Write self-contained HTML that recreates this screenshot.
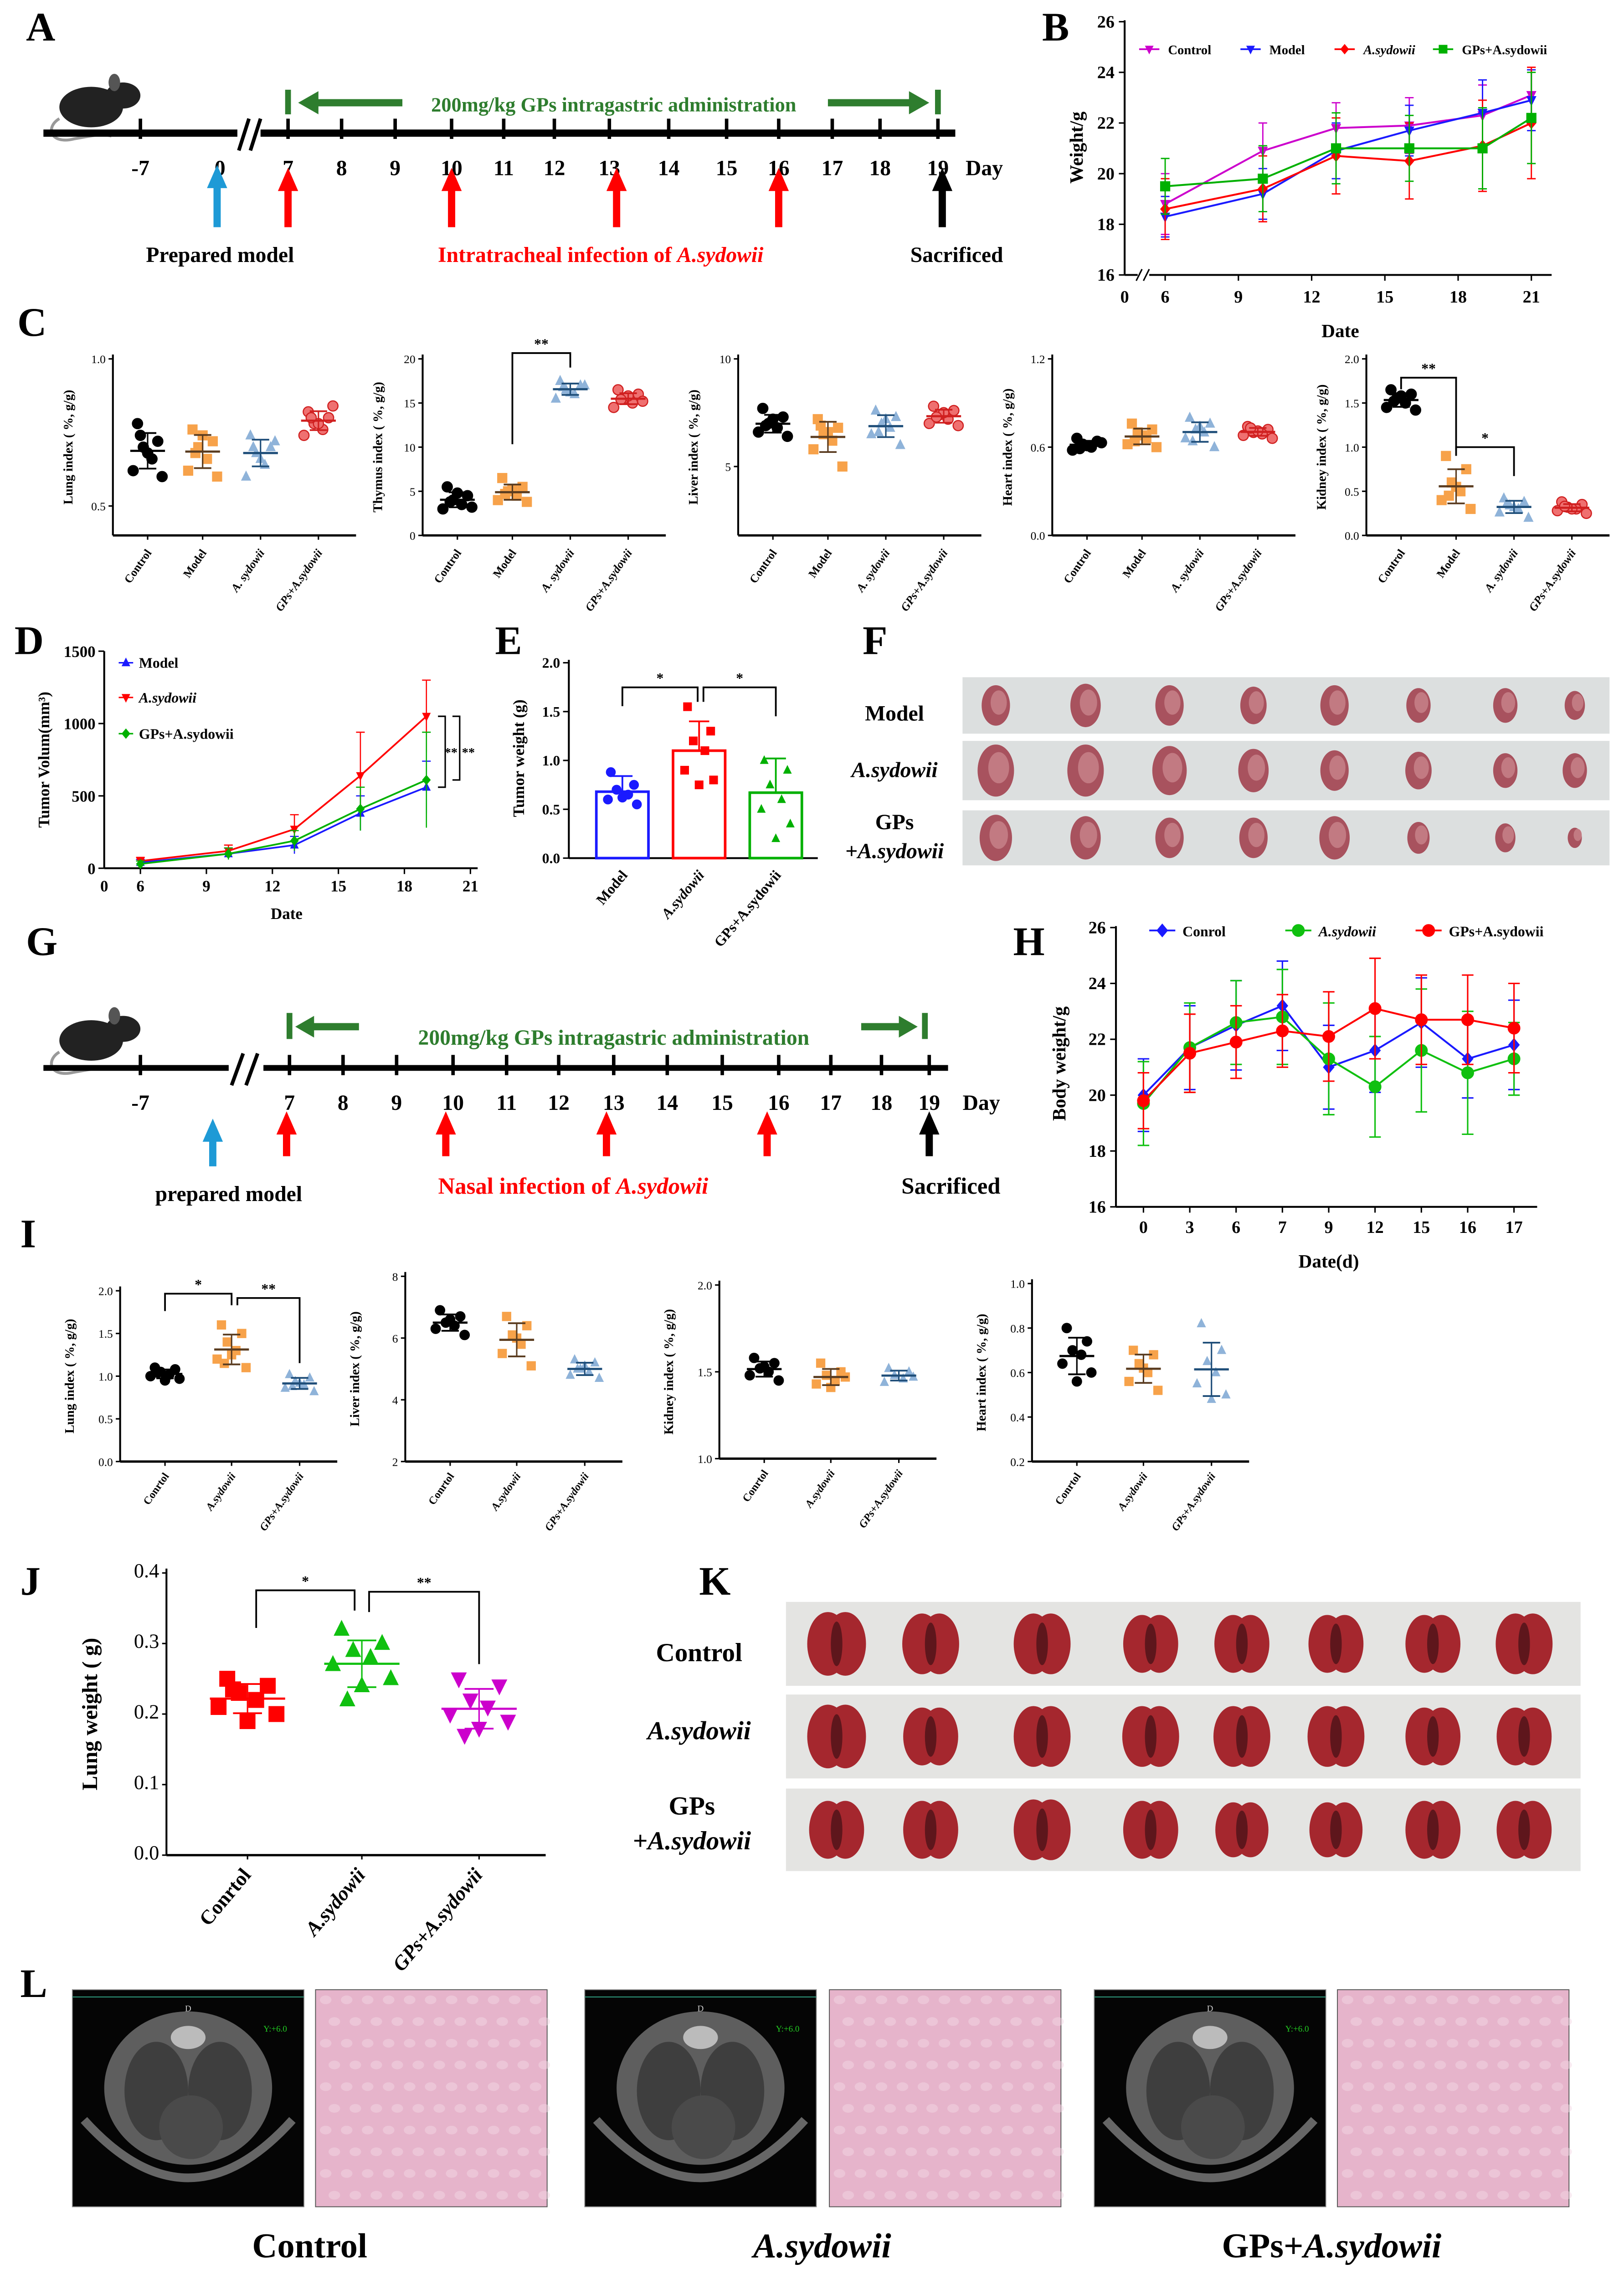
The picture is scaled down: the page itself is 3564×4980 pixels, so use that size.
<!DOCTYPE html>
<html><head><meta charset="utf-8"><style>
html,body{margin:0;padding:0;background:#fff;}
svg{display:block;font-family:"Liberation Serif",serif;}
</style></head><body>
<svg id="fig" xmlns="http://www.w3.org/2000/svg" viewBox="0 0 1122 1568" width="3564" height="4980" preserveAspectRatio="none">
<rect x="0" y="0" width="1122" height="1568" fill="#fff"/>
</svg>
<script>
// ===== DATA =====
const bDays=[6,10,13,16,19,21];
const bControl=[18.8,20.9,21.8,21.9,22.3,23.1];
const bControlErr=[1.2,1.1,1.0,1.1,1.2,1.0];
const bModel=[18.3,19.2,20.9,21.7,22.4,22.9];
const bModelErr=[0.8,1.0,1.1,1.0,1.3,1.2];
const bAsyd=[18.6,19.4,20.7,20.5,21.1,22.0];
const bAsydErr=[1.2,1.3,1.5,1.5,1.8,2.2];
const bGps=[19.5,19.8,21.0,21.0,21.0,22.2];
const bGpsErr=[1.1,1.3,1.4,1.3,1.6,1.8];
const bYTicks=[16,18,20,22,24,26];
const bXTicks=[6,9,12,15,18,21];

const cLung=[[0.78,0.72,0.70,0.66,0.62,0.60,0.68,0.74],[0.76,0.72,0.70,0.66,0.62,0.60,0.74,0.68],[0.74,0.70,0.68,0.64,0.60,0.72,0.66,0.70],[0.82,0.80,0.78,0.76,0.74,0.84,0.78,0.80]];
const cThymus=[[5.5,4.5,4,3.5,3,3.2,4.8,3.8],[6.5,5.5,5,4.5,4,3.8,5.2,4.7],[17.5,17,16.5,16,15.5,17,16.2,16.8],[16.5,16,15.5,15,14.5,15.2,15.8,15.4]];
const cLiver=[[7.7,7.3,7.0,6.8,6.6,6.4,7.2,6.9],[7.2,6.8,6.5,6.2,5.8,5.0,6.6,6.9],[7.6,7.3,7.0,6.8,6.5,6.0,7.2,6.6],[7.8,7.6,7.4,7.2,7.0,6.9,7.5,7.3]];
const cHeart=[[0.66,0.64,0.62,0.60,0.58,0.63,0.61,0.59],[0.76,0.72,0.70,0.66,0.62,0.60,0.68,0.64],[0.80,0.76,0.72,0.70,0.66,0.60,0.74,0.64],[0.74,0.72,0.70,0.69,0.68,0.66,0.71,0.73]];
const cKidney=[[1.65,1.6,1.55,1.5,1.45,1.42,1.58,1.52],[0.9,0.75,0.6,0.5,0.4,0.3,0.55,0.45],[0.42,0.38,0.34,0.3,0.26,0.2,0.32,0.36],[0.38,0.35,0.32,0.3,0.28,0.25,0.3,0.33]];
const cCats=["Control","Model","A. sydowii","GPs+A.sydowii"];

const dDays=[6,10,13,16,19];
const dModel=[40,100,160,380,560];
const dModelErr=[20,40,60,120,180];
const dAsyd=[50,120,270,640,1050];
const dAsydErr=[25,40,100,300,250];
const dGps=[30,100,190,410,610];
const dGpsErr=[20,40,70,150,330];
const dYTicks=[0,500,1000,1500];
const dXTicks=[6,9,12,15,18,21];

const eCats=["Model","A.sydowii","GPs+A.sydowii"];
const eMeans=[0.68,1.1,0.67];
const eErr=[0.16,0.3,0.35];
const ePoints=[[0.88,0.75,0.7,0.65,0.6,0.55,0.62],[1.55,1.3,1.2,1.1,0.9,0.8,0.75],[1.0,0.9,0.75,0.6,0.5,0.35,0.2]];
const eYTicks=[0.0,0.5,1.0,1.5,2.0];

const hCats=["0","3","6","7","9","12","15","16","17"];
const hControl=[20.0,21.7,22.5,23.2,21.0,21.6,22.6,21.3,21.8];
const hControlErr=[1.3,1.5,1.6,1.6,1.5,1.5,1.6,1.4,1.6];
const hAsyd=[19.7,21.7,22.6,22.8,21.3,20.3,21.6,20.8,21.3];
const hAsydErr=[1.5,1.6,1.5,1.7,2.0,1.8,2.2,2.2,1.3];
const hGps=[19.8,21.5,21.9,22.3,22.1,23.1,22.7,22.7,22.4];
const hGpsErr=[1.0,1.4,1.3,1.3,1.6,1.8,1.6,1.6,1.6];
const hYTicks=[16,18,20,22,24,26];

const iLung=[[1.1,1.08,1.05,1.02,1.0,0.97,0.95,1.04],[1.6,1.5,1.4,1.3,1.2,1.1,1.25,1.15],[1.02,0.98,0.94,0.9,0.86,0.82,0.92,0.88]];
const iLiver=[[6.9,6.7,6.5,6.4,6.3,6.1,6.6],[6.7,6.4,6.1,5.8,5.5,5.1,6.0],[5.3,5.2,5.0,4.9,4.8,4.7,5.1,5.0]];
const iKidney=[[1.58,1.55,1.52,1.5,1.48,1.45,1.53],[1.55,1.5,1.48,1.45,1.43,1.47,1.41],[1.52,1.5,1.48,1.46,1.44,1.47]];
const iHeart=[[0.8,0.74,0.7,0.68,0.64,0.6,0.56],[0.7,0.68,0.64,0.6,0.56,0.52,0.62],[0.82,0.7,0.65,0.6,0.55,0.5,0.48]];
const iCats=["Conrtol","A.sydowii","GPs+A.sydowii"];

const jPoints=[[0.25,0.24,0.23,0.22,0.21,0.2,0.19,0.235],[0.32,0.30,0.29,0.28,0.27,0.25,0.24,0.22],[0.25,0.24,0.22,0.21,0.2,0.19,0.18,0.17]];
const jCats=["Conrtol","A.sydowii","GPs+A.sydowii"];
const jYTicks=[0.0,0.1,0.2,0.3,0.4];

// ===== HELPERS =====
const NS='http://www.w3.org/2000/svg';
const svg=document.getElementById('fig');
function mk(tag,attrs,name,parent){
  const el=document.createElementNS(NS,tag);
  for(const k in attrs) el.setAttribute(k,attrs[k]);
  
  
  (parent||svg).appendChild(el);
  return el;
}
function T(x,y,s,name,o){
  o=o||{};
  const a={x:x,y:y,'font-size':o.fs||11,'font-weight':o.fw||'bold','text-anchor':o.a||'middle',fill:o.c||'#000'};
  if(o.it) a['font-style']='italic';
  if(o.rot!=null) a.transform='rotate('+o.rot+' '+x+' '+y+')';
  const e=mk('text',a,name,o.p);
  e.textContent=s;
  return e;
}
function L(x1,y1,x2,y2,name,c,w){return mk('line',{x1:x1,y1:y1,x2:x2,y2:y2,stroke:c||'#000','stroke-width':w||1},name);}
function mean(a){return a.reduce((s,v)=>s+v,0)/a.length;}
function sd(a){const m=mean(a);return Math.sqrt(a.reduce((s,v)=>s+(v-m)*(v-m),0)/(a.length-1));}
function marker(shape,x,y,r,c,fill,name){
  const f=fill||c;
  if(shape==='circle') return mk('circle',{cx:x,cy:y,r:r,fill:f,stroke:c,'stroke-width':0.8},name);
  if(shape==='square') return mk('rect',{x:x-r,y:y-r,width:2*r,height:2*r,fill:f},name);
  if(shape==='tri-up') return mk('polygon',{points:`${x},${y-r*1.2} ${x-r},${y+r*0.8} ${x+r},${y+r*0.8}`,fill:f},name);
  if(shape==='tri-down') return mk('polygon',{points:`${x},${y+r*1.2} ${x-r},${y-r*0.8} ${x+r},${y-r*0.8}`,fill:f},name);
  if(shape==='diamond') return mk('polygon',{points:`${x},${y-r*1.2} ${x+r},${y} ${x},${y+r*1.2} ${x-r},${y}`,fill:f},name);
}
function bracket(x1,x2,y,d1,d2,label,name){
  mk('polyline',{points:`${x1},${y+d1} ${x1},${y} ${x2},${y} ${x2},${y+d2}`,fill:'none',stroke:'#000','stroke-width':1.2},name);
  T((x1+x2)/2,y-3,label,name+'-label',{fs:10});
}
function panelLabel(x,y,s){T(x,y,s,'panel-label-'+s.toLowerCase(),{fs:28,a:'start'});}

// dot plot
function dotPlot(cfg){
  const ax=cfg.ax, top=cfg.top, bot=cfg.bot;
  const ys=v=>bot-(v-cfg.min)/(cfg.max-cfg.min)*(bot-top);
  const nm=cfg.name;
  L(ax,top-3,ax,bot,nm+'-y-axis','#000',1.3);
  L(ax,bot,ax+cfg.w,bot,nm+'-x-axis','#000',1.6);
  cfg.ticks.forEach(t=>{const y=ys(t);L(ax-3,y,ax,y,nm+'-y-tick');T(ax-5,y+3,cfg.tickFmt?cfg.tickFmt(t):String(t),nm+'-y-tick-label',{fs:cfg.tfs||8,a:'end',fw:'normal'});});
  T(ax-cfg.titleOff,(top+bot)/2,cfg.title,nm+'-y-title',{fs:cfg.ttfs||9,rot:-90});
  const jit=[-7,7,-3,3,-10,10,0,-5];
  cfg.groups.forEach((g,i)=>{
    const cx=ax+cfg.off[i];
    L(cx,bot,cx,bot+3,nm+'-x-tick');
    const m=mean(g), s=sd(g), col=cfg.colors[i];
    g.forEach((v,j)=>{const jj=jit[j%jit.length]*(cfg.js||1);marker(cfg.shapes[i],cx+jj,ys(v),cfg.r||3,cfg.strokes?cfg.strokes[i]:col,col,nm+'-point-'+i);});
    L(cx-(cfg.mw||12),ys(m),cx+(cfg.mw||12),ys(m),nm+'-mean-'+i,cfg.lineCols?cfg.lineCols[i]:col,1.5);
    L(cx,ys(m+s),cx,ys(m-s),nm+'-sd-'+i,cfg.lineCols?cfg.lineCols[i]:col,1);
    L(cx-(cfg.cw||6),ys(m+s),cx+(cfg.cw||6),ys(m+s),nm+'-sd-cap-'+i,cfg.lineCols?cfg.lineCols[i]:col,1.2);
    L(cx-(cfg.cw||6),ys(m-s),cx+(cfg.cw||6),ys(m-s),nm+'-sd-cap-'+i,cfg.lineCols?cfg.lineCols[i]:col,1.2);
    const lx=cx+3, ly=bot+cfg.lblOff;
    T(lx,ly,cfg.cats[i],nm+'-x-label',{fs:cfg.lfs||8,a:'end',rot:cfg.lrot||-55,it:cfg.cats[i].indexOf('sydowii')>=0,fw:'bold'});
  });
  return ys;
}

// ===== PANEL A / G timelines =====
function mouse(x,y,name){
  const g=mk('g',{transform:`translate(${x},${y})`},name);
  mk('path',{d:'M8,30 C-2,36 2,48 18,44 C30,42 36,40 44,42',fill:'none',stroke:'#999','stroke-width':2},name+'-tail',g);
  mk('ellipse',{cx:30,cy:22,rx:22,ry:14,fill:'#222'},name+'-body',g);
  mk('ellipse',{cx:52,cy:14,rx:12,ry:9,fill:'#222'},name+'-head',g);
  mk('ellipse',{cx:46,cy:5,rx:4,ry:6,fill:'#555'},name+'-ear',g);
}
function upArrow(x,y1,y2,c,name){
  mk('rect',{x:x-2.5,y:y2+14,width:5,height:y1-y2-14,fill:c},name);
  mk('polygon',{points:`${x},${y2} ${x-7},${y2+16} ${x+7},${y2+16}`,fill:c},name+'-head');
}
const aLabels=["-7","0","7","8","9","10","11","12","13","14","15","16","17","18","19"];
const aPos=[97,152,199,236,273,312,348,383,421,462,502,538,575,608,648];
panelLabel(18,28,'A');
mouse(33,52,'mouse-icon-a');
mk('rect',{x:30,y:89.5,width:630,height:5,fill:'#000'},'timeline-a');
aPos.forEach((x,i)=>{if(aLabels[i]!=='0')mk('rect',{x:x-1.2,y:82,width:2.4,height:14,fill:'#000'},'timeline-a-tick');T(x,121,aLabels[i],'timeline-a-day',{fs:15});});
T(680,121,'Day','timeline-a-unit',{fs:15});
mk('rect',{x:164,y:82,width:16,height:22,fill:'#fff'},'timeline-a-break-gap');
L(165,104,172,82,'timeline-a-break','#000',2.5);L(173,104,180,82,'timeline-a-break','#000',2.5);
mk('rect',{x:197,y:62,width:4,height:17,fill:'#2e7d2e'},'admin-start-a');
mk('rect',{x:646,y:62,width:4,height:17,fill:'#2e7d2e'},'admin-end-a');
mk('rect',{x:218,y:68.5,width:60,height:5,fill:'#2e7d2e'},'admin-arrow-left-a');
mk('polygon',{points:'206,71 220,63 220,79',fill:'#2e7d2e'},'admin-arrow-left-head-a');
mk('rect',{x:572,y:68.5,width:58,height:5,fill:'#2e7d2e'},'admin-arrow-right-a');
mk('polygon',{points:'642,71 628,63 628,79',fill:'#2e7d2e'},'admin-arrow-right-head-a');
T(424,77,'200mg/kg GPs intragastric administration','admin-text-a',{fs:14,c:'#2e7d2e'});
upArrow(150,157,114,'#1e9ad6','arrow-prepared-a');
[199,312,426,538].forEach(x=>upArrow(x,157,116,'#ff0000','arrow-infection-a'));
upArrow(651,157,116,'#000','arrow-sacrifice-a');
T(152,181,'Prepared model','prepared-model-label-a',{fs:15});
(function(){const t=T(415,181,'Intratracheal infection of ','infection-label-a',{fs:15,c:'#ff0000'});const s=mk('tspan',{'font-style':'italic'},'infection-species-a',t);s.textContent='A.sydowii';})();
T(661,181,'Sacrificed','sacrificed-label-a',{fs:15});

const gLabels=["-7","7","8","9","10","11","12","13","14","15","16","17","18","19"];
const gPos=[97,200,237,274,313,350,386,424,461,499,538,574,609,642];
panelLabel(18,660,'G');
mouse(33,697,'mouse-icon-g');
mk('rect',{x:30,y:736,width:625,height:4,fill:'#000'},'timeline-g');
gPos.forEach((x,i)=>{mk('rect',{x:x-1.2,y:729,width:2.4,height:14,fill:'#000'},'timeline-g-tick');T(x,767,gLabels[i],'timeline-g-day',{fs:15});});
T(678,767,'Day','timeline-g-unit',{fs:15});
mk('rect',{x:158,y:728,width:24,height:22,fill:'#fff'},'timeline-g-break-gap');
L(160,750,168,728,'timeline-g-break','#000',2.5);L(170,750,178,728,'timeline-g-break','#000',2.5);
mk('rect',{x:198,y:700,width:4,height:18,fill:'#2e7d2e'},'admin-start-g');
mk('rect',{x:637,y:700,width:4,height:18,fill:'#2e7d2e'},'admin-end-g');
mk('rect',{x:214,y:707,width:34,height:5,fill:'#2e7d2e'},'admin-arrow-left-g');
mk('polygon',{points:'204,709.5 217,702 217,717',fill:'#2e7d2e'},'admin-arrow-left-head-g');
mk('rect',{x:595,y:707,width:28,height:5,fill:'#2e7d2e'},'admin-arrow-right-g');
mk('polygon',{points:'634,709.5 621,702 621,717',fill:'#2e7d2e'},'admin-arrow-right-head-g');
T(424,722,'200mg/kg GPs intragastric administration','admin-text-g',{fs:15,c:'#2e7d2e'});
upArrow(147,806,773,'#1e9ad6','arrow-prepared-g');
[198,308,419,530].forEach(x=>upArrow(x,799,768,'#ff0000','arrow-infection-g'));
upArrow(642,799,768,'#000','arrow-sacrifice-g');
T(158,830,'prepared model','prepared-model-label-g',{fs:15});
(function(){const t=T(396,825,'Nasal infection of ','infection-label-g',{fs:16,c:'#ff0000'});const s=mk('tspan',{'font-style':'italic'},'infection-species-g',t);s.textContent='A.sydowii';})();
T(657,825,'Sacrificed','sacrificed-label-g',{fs:16});

// ===== PANEL B =====
panelLabel(720,28,'B');
(function(){
  const x=d=>805+(d-6)*(1058-805)/15, y=v=>190-(v-16)/10*175;
  L(777,14,777,190,'b-y-axis','#000',1.3);L(777,190,1072,190,'b-x-axis','#000',1.3);
  bYTicks.forEach(t=>{L(773,y(t),777,y(t),'b-y-tick');T(770,y(t)+4,String(t),'b-y-tick-label',{fs:12,a:'end'});});
  T(777,209,'0','b-x-tick-label',{fs:12});
  bXTicks.forEach(t=>{L(x(t),190,x(t),194,'b-x-tick');T(x(t),209,String(t),'b-x-tick-label',{fs:12});});
  mk('rect',{x:786,y:186,width:8,height:8,fill:'#fff'},'b-axis-break-gap');
  L(785,194,789,186,'b-axis-break');L(790,194,794,186,'b-axis-break');
  T(748,102,'Weight/g','b-y-title',{fs:13,rot:-90});
  T(926,233,'Date','b-x-title',{fs:13});
  const S=[[bControl,bControlErr,'#cc00cc','tri-down','control'],[bModel,bModelErr,'#1a1aff','tri-down','model'],[bAsyd,bAsydErr,'#ff0000','diamond','asydowii'],[bGps,bGpsErr,'#00b000','square','gps-asydowii']];
  S.forEach(s=>{
    const pts=bDays.map((d,i)=>x(d)+','+y(s[0][i])).join(' ');
    mk('polyline',{points:pts,fill:'none',stroke:s[2],'stroke-width':1.3},'b-line-'+s[4]);
    bDays.forEach((d,i)=>{const xx=x(d),v=s[0][i],e=s[1][i];
      L(xx,y(v+e),xx,y(v-e),'b-errbar-'+s[4],s[2],0.9);L(xx-3,y(v+e),xx+3,y(v+e),'b-errcap-'+s[4],s[2],0.9);L(xx-3,y(v-e),xx+3,y(v-e),'b-errcap-'+s[4],s[2],0.9);
      marker(s[3],xx,y(v),3.5,s[2],s[2],'b-point-'+s[4]);});
  });
  const lg=[['Control',795,'#cc00cc','tri-down',false],['Model',865,'#1a1aff','tri-down',false],['A.sydowii',930,'#ff0000','diamond',true],['GPs+A.sydowii',998,'#00b000','square',false]];
  lg.forEach(l=>{L(l[1]-8,34,l[1]+6,34,'b-legend-line',l[2],1.2);marker(l[3],l[1]-1,34,3,l[2],l[2],'b-legend-marker');T(l[1]+12,37.5,l[0],'b-legend-entry',{fs:9,a:'start',it:l[4]});});
})();

// ===== PANEL C =====
panelLabel(12,232,'C');
const cCols=['#000','#f7a24a','#8fb3d9','#ef7070'];
const cShapes=['circle','square','tri-up','circle'];
const cStrokes=['#000','#f7a24a','#8fb3d9','#d02020'];
const cLineCols=['#000','#5a3c20','#1f4e79','#d02020'];
const cOff=[24,62,102,142];
const cCommon={top:248,bot:370,w:168,off:cOff,colors:cCols,shapes:cShapes,strokes:cStrokes,lineCols:cLineCols,cats:cCats,lblOff:12,titleOff:28,r:3.5};
dotPlot(Object.assign({},cCommon,{name:'c-lung',ax:78,min:0.4,max:1.0,ticks:[0.5,1.0],tickFmt:t=>t.toFixed(1),title:'Lung index ( %, g/g)',groups:cLung}));
const thY=dotPlot(Object.assign({},cCommon,{name:'c-thymus',ax:292,min:0,max:20,ticks:[0,5,10,15,20],title:'Thymus index ( %, g/g)',groups:cThymus}));
bracket(292+62,292+102,244,63,10,'**','c-thymus-sig');
dotPlot(Object.assign({},cCommon,{name:'c-liver',ax:510,min:1.8,max:10,ticks:[5,10],title:'Liver index ( %, g/g)',groups:cLiver}));
dotPlot(Object.assign({},cCommon,{name:'c-heart',ax:727,min:0,max:1.2,ticks:[0.0,0.6,1.2],tickFmt:t=>t.toFixed(1),title:'Heart index ( %, g/g)',groups:cHeart}));
dotPlot(Object.assign({},cCommon,{name:'c-kidney',ax:944,min:0,max:2.0,ticks:[0,0.5,1.0,1.5,2.0],tickFmt:t=>t.toFixed(1),title:'Kidney index ( %, g/g)',groups:cKidney}));
bracket(944+24,944+62,261,8,50,'**','c-kidney-sig-1');
bracket(944+62,944+102,309,6,20,'*','c-kidney-sig-2');

// ===== PANEL D =====
panelLabel(10,452,'D');
(function(){
  const x=d=>97+(d-6)*(325-97)/15, y=v=>600-v/1500*150;
  L(72,450,72,600,'d-y-axis','#000',1.3);L(72,600,330,600,'d-x-axis','#000',1.3);
  dYTicks.forEach(t=>{L(68,y(t),72,y(t),'d-y-tick');T(66,y(t)+4,String(t),'d-y-tick-label',{fs:11,a:'end'});});
  T(72,616,'0','d-x-tick-label',{fs:11});
  dXTicks.forEach(t=>{L(x(t),600,x(t),604,'d-x-tick');T(x(t),616,String(t),'d-x-tick-label',{fs:11});});
  T(34,525,'Tumor Volum(mm\u00b3)','d-y-title',{fs:11,rot:-90});
  T(198,635,'Date','d-x-title',{fs:11});
  const S=[[dModel,dModelErr,'#1a1aff','tri-up','model'],[dAsyd,dAsydErr,'#ff0000','tri-down','asydowii'],[dGps,dGpsErr,'#00b000','diamond','gps-asydowii']];
  S.forEach(s=>{
    mk('polyline',{points:dDays.map((d,i)=>x(d)+','+y(s[0][i])).join(' '),fill:'none',stroke:s[2],'stroke-width':1.2},'d-line-'+s[4]);
    dDays.forEach((d,i)=>{const xx=x(d),v=s[0][i],e=s[1][i];
      L(xx,y(v+e),xx,y(Math.max(0,v-e)),'d-errbar-'+s[4],s[2],0.8);L(xx-3,y(v+e),xx+3,y(v+e),'d-errcap-'+s[4],s[2],0.8);
      marker(s[3],xx,y(v),3,s[2],s[2],'d-point-'+s[4]);});
  });
  const lx=x(dDays[dDays.length-1]);
  mk('polyline',{points:`${lx+8},${y(dAsyd[4])} ${lx+13},${y(dAsyd[4])} ${lx+13},${y(dModel[4])} ${lx+8},${y(dModel[4])}`,fill:'none',stroke:'#000','stroke-width':1},'d-sig-bracket-1');
  mk('polyline',{points:`${lx+18},${y(dAsyd[4])} ${lx+23},${y(dAsyd[4])} ${lx+23},${y(dGps[4])} ${lx+18},${y(dGps[4])}`,fill:'none',stroke:'#000','stroke-width':1},'d-sig-bracket-2');
  T(lx+17,523,'**','d-sig-label',{fs:9});T(lx+29,523,'**','d-sig-label',{fs:9});
  const lg=[['Model','#1a1aff','tri-up',false,458],['A.sydowii','#ff0000','tri-down',true,482],['GPs+A.sydowii','#00b000','diamond',false,507]];
  lg.forEach(l=>{L(82,l[4],92,l[4],'d-legend-line',l[1],1);marker(l[2],87,l[4],3,l[1],l[1],'d-legend-marker');T(96,l[4]+3.5,l[0],'d-legend-entry',{fs:10,a:'start',it:l[3]});});
})();

// ===== PANEL E =====
panelLabel(342,452,'E');
(function(){
  const y=v=>593-v/2*135, xs=[430,483,536], cols=['#1a1aff','#ff0000','#00b000'], sh=['circle','square','tri-up'];
  L(393,456,393,593,'e-y-axis','#000',1.3);L(393,593,565,593,'e-x-axis','#000',1.3);
  eYTicks.forEach(t=>{L(389,y(t),393,y(t),'e-y-tick');T(387,y(t)+3.5,t.toFixed(1),'e-y-tick-label',{fs:10,a:'end'});});
  T(362,524,'Tumor weight (g)','e-y-title',{fs:11,rot:-90});
  eMeans.forEach((m,i)=>{
    mk('rect',{x:xs[i]-18,y:y(m),width:36,height:593-y(m),fill:'#fff',stroke:cols[i],'stroke-width':1.8},'e-bar-'+i);
    L(xs[i],y(m+eErr[i]),xs[i],y(m),'e-errbar',cols[i],1.2);L(xs[i]-7,y(m+eErr[i]),xs[i]+7,y(m+eErr[i]),'e-errcap',cols[i],1.2);
    const jit=[-8,8,-4,4,-10,10,0];
    ePoints[i].forEach((v,j)=>marker(sh[i],xs[i]+jit[j],y(v),3,cols[i],cols[i],'e-point-'+i));
    T(xs[i]+4,605,eCats[i],'e-x-label',{fs:10,a:'end',rot:-50,it:i===1});
  });
  bracket(430,482,475,13,10,'*','e-sig-1');
  bracket(486,536,475,10,20,'*','e-sig-2');
})();

// ===== PHOTO STRIPS F, K =====
function strip(x,y,w,h,cx,name,kind,sizes){
  mk('rect',{x:x,y:y,width:w,height:h,fill:kind==='tumor'?'#dcdfdf':'#e4e4e2'},name);
  cx.forEach((c,i)=>{const s=sizes[i];
    if(kind==='tumor'){mk('ellipse',{cx:c,cy:y+h/2,rx:s*0.7,ry:s,fill:'#a8525e'},name+'-tumor');mk('ellipse',{cx:c+2,cy:y+h/2-2,rx:s*0.4,ry:s*0.6,fill:'#c27a82'},name+'-tumor-hl');}
    else{mk('ellipse',{cx:c-6,cy:y+h/2,rx:s*0.65,ry:s,fill:'#a5272e'},name+'-lung-l');mk('ellipse',{cx:c+6,cy:y+h/2,rx:s*0.65,ry:s,fill:'#a5272e'},name+'-lung-r');mk('ellipse',{cx:c,cy:y+h/2,rx:4,ry:s*0.7,fill:'#5e161c'},name+'-lung-center');}
  });
}
panelLabel(596,452,'F');
const fx=[688,750,808,866,922,980,1040,1088];
strip(665,468,447,39,fx,'f-strip-model','tumor',[14,15,14,13,14,12,12,10]);
strip(665,512,447,41,fx,'f-strip-asydowii','tumor',[18,18,17,15,14,13,12,12]);
strip(665,560,447,38,fx,'f-strip-gps','tumor',[16,15,14,14,15,11,10,7]);
T(618,498,'Model','f-row-label-model',{fs:15});
T(618,537,'A.sydowii','f-row-label-asydowii',{fs:15,it:true});
T(618,573,'GPs','f-row-label-gps',{fs:15});
T(618,593,'+A.sydowii','f-row-label-gps2',{fs:15,it:true});

panelLabel(483,1102,'K');
const kx=[578,643,720,795,858,923,990,1053];
strip(543,1107,549,58,kx,'k-strip-control','lung',[22,21,21,20,20,20,20,21]);
strip(543,1171,549,58,kx,'k-strip-asydowii','lung',[22,20,21,21,21,21,20,20]);
strip(543,1236,549,57,kx,'k-strip-gps','lung',[20,20,21,20,19,19,20,20]);
T(483,1148,'Control','k-row-label-control',{fs:18});
T(483,1202,'A.sydowii','k-row-label-asydowii',{fs:18,it:true});
T(478,1254,'GPs','k-row-label-gps',{fs:18});
T(478,1278,'+A.sydowii','k-row-label-gps2',{fs:18,it:true});

// ===== PANEL H =====
panelLabel(700,660,'H');
(function(){
  const xs=[790,822,854,886,918,950,982,1014,1046], y=v=>834-(v-16)/10*193;
  L(771,640,771,834,'h-y-axis','#000',1.3);L(771,834,1062,834,'h-x-axis','#000',1.3);
  hYTicks.forEach(t=>{L(767,y(t),771,y(t),'h-y-tick');T(764,y(t)+4,String(t),'h-y-tick-label',{fs:12,a:'end'});});
  hCats.forEach((c,i)=>{L(xs[i],834,xs[i],838,'h-x-tick');T(xs[i],852,c,'h-x-tick-label',{fs:12});});
  T(736,735,'Body weight/g','h-y-title',{fs:13,rot:-90});
  T(918,876,'Date(d)','h-x-title',{fs:13});
  const S=[[hControl,hControlErr,'#1a1aff','diamond','control'],[hAsyd,hAsydErr,'#10c010','circle','asydowii'],[hGps,hGpsErr,'#ff0000','circle','gps-asydowii']];
  S.forEach(s=>{
    mk('polyline',{points:xs.map((x,i)=>x+','+y(s[0][i])).join(' '),fill:'none',stroke:s[2],'stroke-width':1.3},'h-line-'+s[4]);
    xs.forEach((xx,i)=>{const v=s[0][i],e=s[1][i];
      L(xx,y(v+e),xx,y(v-e),'h-errbar-'+s[4],s[2],1);L(xx-4,y(v+e),xx+4,y(v+e),'h-errcap-'+s[4],s[2],1);L(xx-4,y(v-e),xx+4,y(v-e),'h-errcap-'+s[4],s[2],1);
      marker(s[3],xx,y(v),4,s[2],s[2],'h-point-'+s[4]);});
  });
  const lg=[['Conrol',803,'#1a1aff','diamond',false],['A.sydowii',897,'#10c010','circle',true],['GPs+A.sydowii',987,'#ff0000','circle',false]];
  lg.forEach(l=>{L(l[1]-9,643,l[1]+9,643,'h-legend-line',l[2],1.2);marker(l[3],l[1],643,4,l[2],l[2],'h-legend-marker');T(l[1]+14,647,l[0],'h-legend-entry',{fs:10,a:'start',it:l[4]});});
})();

// ===== PANEL I =====
panelLabel(14,862,'I');
const iCols=['#000','#f7a24a','#8fb3d9'];
const iShapes=['circle','square','tri-up'];
const iLine=['#000','#5a3c20','#1f4e79'];
const iCommon={top:888,bot:1010,w:150,off:[31,77,124],colors:iCols,shapes:iShapes,lineCols:iLine,cats:iCats,lblOff:10,titleOff:32,r:3.2,lfs:7.5};
dotPlot(Object.assign({},iCommon,{name:'i-lung',ax:83,top:892,min:0,max:2.0,ticks:[0,0.5,1.0,1.5,2.0],tickFmt:t=>t.toFixed(1),title:'Lung index ( %, g/g)',groups:iLung}));
bracket(114,160,894,12,8,'*','i-lung-sig-1');
bracket(164,207,897,5,45,'**','i-lung-sig-2');
dotPlot(Object.assign({},iCommon,{name:'i-liver',ax:280,top:882,min:2,max:8,ticks:[2,4,6,8],title:'Liver index ( %, g/g)',groups:iLiver}));
dotPlot(Object.assign({},iCommon,{name:'i-kidney',ax:497,top:888,bot:1008,min:1.0,max:2.0,ticks:[1.0,1.5,2.0],tickFmt:t=>t.toFixed(1),title:'Kidney index ( %, g/g)',groups:iKidney}));
dotPlot(Object.assign({},iCommon,{name:'i-heart',ax:713,top:887,min:0.2,max:1.0,ticks:[0.2,0.4,0.6,0.8,1.0],tickFmt:t=>t.toFixed(1),title:'Heart index ( %, g/g)',groups:iHeart}));

// ===== PANEL J =====
panelLabel(14,1102,'J');
dotPlot({name:'j-lung-weight',ax:115,top:1087,bot:1282,w:262,min:0,max:0.4,ticks:jYTicks,tickFmt:t=>t.toFixed(1),tfs:14,title:'Lung weight ( g)',ttfs:15,titleOff:48,
  off:[56,135,216],colors:['#ff0000','#10c010','#cc00cc'],shapes:['square','tri-up','tri-down'],cats:jCats,groups:jPoints,lblOff:14,lfs:14,lrot:-50,r:5.5,js:2,mw:26,cw:10});
bracket(177,245,1099,26,14,'*','j-sig-1');
bracket(255,331,1100,14,50,'**','j-sig-2');

// ===== PANEL L =====
panelLabel(14,1380,'L');
function ct(x,name){
  mk('rect',{x:x,y:1375,width:160,height:150,fill:'#050505',stroke:'#888','stroke-width':0.6},name);
  L(x,1380,x+160,1380,name+'-topline','#3a8',0.6);
  mk('path',{d:`M${x+8},1465 Q${x+80},1545 ${x+152},1465`,fill:'none',stroke:'#666','stroke-width':6},name+'-table');
  mk('ellipse',{cx:x+80,cy:1443,rx:58,ry:53,fill:'#5e5e5e'},name+'-body');
  mk('ellipse',{cx:x+58,cy:1445,rx:22,ry:34,fill:'#3e3e3e'},name+'-lung-left');
  mk('ellipse',{cx:x+102,cy:1445,rx:22,ry:34,fill:'#3e3e3e'},name+'-lung-right');
  mk('ellipse',{cx:x+82,cy:1470,rx:22,ry:22,fill:'#4a4a4a'},name+'-heart');
  mk('ellipse',{cx:x+80,cy:1408,rx:12,ry:8,fill:'#bbb'},name+'-spine');
  T(x+80,1390,'D','l-ct-label',{fs:6,c:'#ccc',fw:'normal'});
  T(x+132,1404,'Y:+6.0','l-ct-coord',{fs:6,c:'#2c2',fw:'normal',a:'start'});
}
function histo(x,name){
  mk('rect',{x:x,y:1375,width:160,height:150,fill:'#e6b4cb',stroke:'#555','stroke-width':0.6},name);
  const g=mk('g',{opacity:0.5},name+'-alveoli');
  for(let r=0;r<10;r++)for(let c=0;c<11;c++){mk('ellipse',{cx:x+7+c*14.5+(r%2)*6,cy:1382+r*15,rx:4,ry:3,fill:'#f3d6e4'},name+'-alveolus',g);}
}
ct(50,'l-ct-control');histo(218,'l-histology-control');
ct(404,'l-ct-asydowii');histo(573,'l-histology-asydowii');
ct(756,'l-ct-gps');histo(924,'l-histology-gps');
T(214,1560,'Control','l-label-control',{fs:24});
T(568,1560,'A.sydowii','l-label-asydowii',{fs:24,it:true});
(function(){const t=T(920,1560,'GPs+','l-label-gps',{fs:24});const s=mk('tspan',{'font-style':'italic'},'l-label-gps-species',t);s.textContent='A.sydowii';})();
</script>
</body></html>
